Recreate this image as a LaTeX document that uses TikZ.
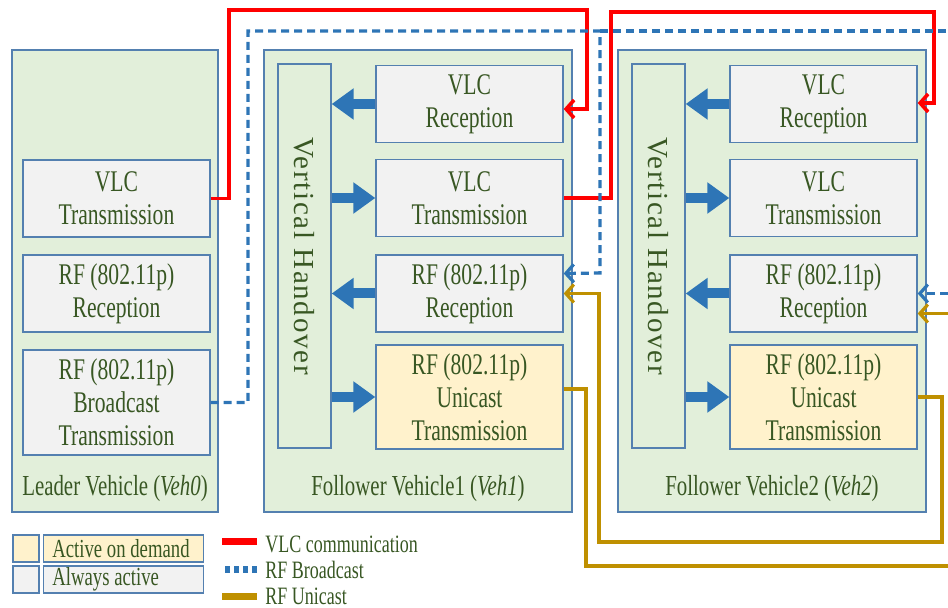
\documentclass[tikz,border=0pt]{standalone}
\usepackage{fontspec}
\setmainfont{Liberation Serif}[FakeStretch=0.72]
\newfontfamily\vhfont{Liberation Serif}[LetterSpace=6]
\usepackage{xcolor}
\usepackage{tikz}
\usetikzlibrary{arrows.meta,positioning}
\definecolor{vehgreen}{RGB}{226,239,218}
\definecolor{unitgray}{RGB}{242,242,242}
\definecolor{demandyellow}{RGB}{255,242,204}
\definecolor{boxline}{RGB}{84,128,176}
\definecolor{textgreen}{RGB}{56,87,35}
\definecolor{arrowblue}{RGB}{46,117,182}
\definecolor{vlcred}{RGB}{255,0,0}
\definecolor{ucastgold}{RGB}{191,144,0}

\begin{document}
\begin{tikzpicture}[
    x=0.5pt, y=-0.5pt,
    vehicle/.style={rectangle, draw=boxline, fill=vehgreen, line width=0.7pt, minimum width=154pt, minimum height=231pt, inner sep=0pt},
    unit/.style={rectangle, draw=boxline, fill=unitgray, line width=0.7pt, minimum width=93.5pt, minimum height=38.5pt, inner sep=0pt, align=center, text=textgreen, font=\fontsize{15}{16.5}\selectfont},
    ondemand/.style={unit, fill=demandyellow, minimum height=52pt},
    handover/.style={rectangle, draw=boxline, fill=vehgreen, line width=0.7pt, minimum width=26.5pt, minimum height=192pt, inner sep=0pt},
    vhtext/.style={rotate=-90, text=textgreen, font=\vhfont\fontsize{14.5}{16}\selectfont},
    vehlabel/.style={text=textgreen, font=\fontsize{14.5}{16}\selectfont, inner sep=0pt},
    blockarrow/.style={-{Triangle[length=11pt,width=15pt]}, line width=5pt, draw=arrowblue},
    vlclink/.style={-{Straight Barb[length=4pt,width=9pt]}, line width=1.8pt, draw=vlcred},
    rfbcast/.style={-{Straight Barb[length=4pt,width=9pt]}, line width=1.6pt, draw=arrowblue, dash pattern=on 4pt off 2.5pt},
    rfucast/.style={-{Straight Barb[length=4pt,width=9pt]}, line width=1.6pt, draw=ucastgold},
    legbox/.style={rectangle, draw=boxline, line width=0.7pt, minimum height=13.5pt, inner sep=0pt},
    legtext/.style={anchor=west, text=textgreen, font=\fontsize{12.5}{14}\selectfont, inner sep=0pt}
]
    \useasboundingbox (0,0) rectangle (948,608);

    % Vehicles
    \node[vehicle, minimum width=103pt] (veh0) at (115,281) {};
    \node[vehicle] (veh1) at (418,281) {};
    \node[vehicle] (veh2) at (772,281) {};

    % Leader vehicle units
    \node[unit] (v0vlctx) at (116.5,198.5) {VLC\\Transmission};
    \node[unit] (v0rfrx) at (116.5,293.5) {RF (802.11p)\\Reception};
    \node[unit, minimum height=52.5pt] (v0bctx) at (116.5,402.5) {RF (802.11p)\\Broadcast\\Transmission};
    \node[vehlabel] (v0lab) at (115,489) {Leader Vehicle (\textit{Veh0})};

    % Follower vehicle 1
    \node[handover] (v1vh) at (304.5,256) {};
    \node[vhtext] (v1vht) at (v1vh) {Vertical Handover};
    \node[unit] (v1vlcrx) at (469.5,104) {VLC\\Reception};
    \node[unit] (v1vlctx) at (469.5,198) {VLC\\Transmission};
    \node[unit] (v1rfrx) at (469.5,293.5) {RF (802.11p)\\Reception};
    \node[ondemand] (v1uctx) at (469.5,397) {RF (802.11p)\\Unicast\\Transmission};
    \node[vehlabel] (v1lab) at (418,489) {Follower Vehicle1 (\textit{Veh1})};

    % Follower vehicle 2
    \node[handover] (v2vh) at (658.5,256) {};
    \node[vhtext] (v2vht) at (v2vh) {Vertical Handover};
    \node[unit] (v2vlcrx) at (823.5,104) {VLC\\Reception};
    \node[unit] (v2vlctx) at (823.5,198) {VLC\\Transmission};
    \node[unit] (v2rfrx) at (823.5,293.5) {RF (802.11p)\\Reception};
    \node[ondemand] (v2uctx) at (823.5,397) {RF (802.11p)\\Unicast\\Transmission};
    \node[vehlabel] (v2lab) at (772,489) {Follower Vehicle2 (\textit{Veh2})};

    % Handover arrows
    \foreach \v in {v1, v2} {
        \draw[blockarrow] (\v vlcrx.west) -- (\v vlcrx.west -| \v vh.east);
        \draw[blockarrow] (\v vlctx.west -| \v vh.east) -- (\v vlctx.west);
        \draw[blockarrow] (\v rfrx.west) -- (\v rfrx.west -| \v vh.east);
        \draw[blockarrow] (\v uctx.west -| \v vh.east) -- (\v uctx.west);
    }

    % Off-picture ends
    \coordinate (bcastsplit) at (600,31);
    \coordinate (bcastout) at (948,31);
    \coordinate (bcastin) at (948,293.5);
    \coordinate (ucastout) at (948,566);
    \coordinate (ucastin) at (948,313.5);

    % VLC links
    \draw[vlclink] (v0vlctx.east) -| (229,10) -| (587,109) -- ([yshift=-2.5pt]v1vlcrx.east);
    \draw[vlclink] (v1vlctx.east) -| (611,12) -| (934,103) -- ([yshift=0.5pt]v2vlcrx.east);

    % RF broadcast
    \draw[rfbcast] (v0bctx.east) -| (248,31) -| (600,273) -- ([yshift=10pt]v1rfrx.east);
    \draw[rfbcast, -] (bcastsplit) -- (bcastout);
    \draw[rfbcast] (bcastin) -- (v2rfrx.east);

    % RF unicast
    \draw[rfucast, -] ([yshift=4pt]v1uctx.east) -| (586,566) -- (ucastout);
    \draw[rfucast] (v2uctx.east) -| (942,542) -| (599,293.5) -- (v1rfrx.east);
    \draw[rfucast] (ucastin) -- ([yshift=-10pt]v2rfrx.east);

    % Legend
    \node[legbox, fill=demandyellow, minimum width=13pt] (lgsqa) at (26,548.5) {};
    \node[legbox, fill=demandyellow, minimum width=80pt, anchor=west] (lgboxa) at (43,548.5) {};
    \node[legtext, font=\fontsize{13}{15}\selectfont] (lgtxa) at (52,548.5) {Active on demand};
    \node[legbox, fill=unitgray, minimum width=13pt] (lgsqb) at (26,579.5) {};
    \node[legbox, fill=unitgray, minimum width=80pt, anchor=west] (lgboxb) at (43,579.5) {};
    \node[legtext, font=\fontsize{13}{15}\selectfont] (lgtxb) at (52,579.5) {Always active};

    \node[legtext] (lgvlc) at (265,544) {VLC communication};
    \node[legtext] (lgbc) at (265,570) {RF Broadcast};
    \node[legtext] (lguc) at (265,596) {RF Unicast};
    \draw[vlcred, line width=3.5pt] (lgvlc.west) ++(-8,-2) -- ++(-35,0);
    \draw[arrowblue, line width=3.5pt, dash pattern=on 2.5pt off 2pt] (lgbc.west) ++(-8,0) -- ++(-35,0);
    \draw[ucastgold, line width=3.5pt] (lguc.west) ++(-8,1) -- ++(-35,0);
\end{tikzpicture}
\end{document}
